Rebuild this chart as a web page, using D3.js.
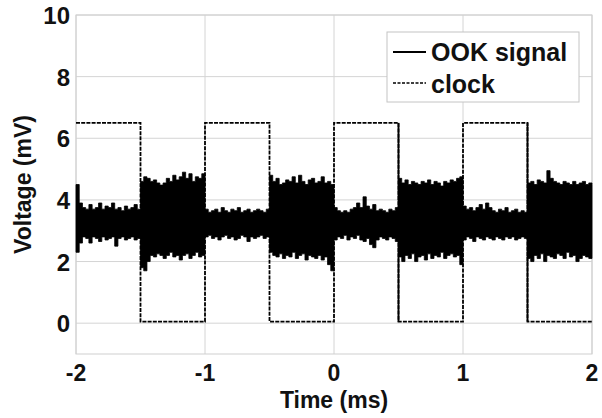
<!DOCTYPE html>
<html>
<head>
<meta charset="utf-8">
<script src="https://cdn.jsdelivr.net/npm/d3@7"></script>
<style>
  body { margin: 0; background: #fff; }
  text { font-family: "Liberation Sans", Arial, sans-serif; font-weight: bold; fill: #111; }
</style>
</head>
<body>
<div id="chart"></div>
<script>
// tick labels
const xTicks = [-2, -1, 0, 1, 2];
const yTicks = [0, 2, 4, 6, 8, 10];

// clock square wave (ms, mV)
const clockTime = [-2, -1.5, -1, -0.5, 0, 0.5, 1, 1.5, 2];
const clockLevel = [6.5, 0.05, 6.5, 0.05, 6.5, 0.05, 6.5, 0.05, 0.05];
const solidEdges = [0.5, 1.5]; // edges that look solid in the picture

// OOK signal envelope, one value every 0.025 ms from -2 to 2 ms (mV)
const ookUpper = [
  4.5, 3.9, 3.75, 3.7, 3.85, 3.7, 3.75, 3.9, 3.7, 3.8, 3.75, 3.9, 3.7, 3.75, 3.65, 3.8, 3.7, 3.75, 3.85, 3.7,
  4.6, 4.75, 4.7, 4.6, 4.65, 4.55, 4.48, 4.55, 4.7, 4.6, 4.8, 4.65, 4.75, 4.9, 4.7, 4.85, 4.6, 4.75, 4.7, 4.85,
  3.7, 3.6, 3.65, 3.7, 3.6, 3.75, 3.65, 3.6, 3.7, 3.65, 3.75, 3.6, 3.65, 3.7, 3.6, 3.65, 3.7, 3.65, 3.6, 3.7,
  4.8, 4.6, 4.7, 4.5, 4.55, 4.65, 4.6, 4.75, 4.55, 4.8, 4.6, 4.5, 4.65, 4.7, 4.55, 4.6, 4.75, 4.55, 4.6, 4.5,
  3.75, 3.65, 3.6, 3.65, 3.6, 3.7, 3.75, 3.9, 3.75, 4.1, 3.8, 3.7, 3.85, 3.65, 3.7, 3.65, 3.6, 3.7, 3.65, 3.75,
  4.7, 4.55, 4.65, 4.5, 4.6, 4.55, 4.5, 4.6, 4.55, 4.65, 4.5, 4.6, 4.55, 4.45, 4.6, 4.55, 4.65, 4.6, 4.7, 4.75,
  3.8, 3.7, 3.75, 3.65, 3.75, 3.85, 3.7, 3.9, 3.75, 3.65, 3.6, 3.7, 3.65, 3.75, 3.6, 3.65, 3.7, 3.6, 3.65, 3.6,
  4.55, 4.6, 4.5, 4.65, 4.6, 4.55, 4.95, 4.7, 4.6, 4.55, 4.5, 4.6, 4.55, 4.5, 4.6, 4.5, 4.55, 4.6, 4.5, 4.55,
  4.5
];
const ookLower = [
  2.3, 2.6, 2.8, 2.75, 2.6, 2.8, 2.75, 2.65, 2.8, 2.7, 2.75, 2.8, 2.5, 2.75, 2.8, 2.7, 2.75, 2.8, 2.7, 2.75,
  1.8, 1.7, 2.0, 2.2, 2.15, 2.25, 2.2, 2.1, 2.2, 2.3, 2.15, 2.2, 2.05, 2.2, 2.25, 2.1, 2.2, 2.3, 2.15, 2.2,
  2.8, 2.85, 2.75, 2.8, 2.7, 2.8, 2.85, 2.75, 2.8, 2.7, 2.75, 2.85, 2.8, 2.65, 2.8, 2.75, 2.8, 2.85, 2.75, 2.8,
  2.3, 2.2, 2.15, 2.25, 2.1, 2.2, 2.15, 2.3, 2.1, 2.2, 2.25, 2.05, 2.2, 2.15, 2.1, 2.2, 2.05, 2.15, 1.9, 1.7,
  2.7, 2.8, 2.75, 2.85, 2.7, 2.8, 2.75, 2.85, 2.7, 2.65, 2.75, 2.55, 2.45, 2.7, 2.8, 2.75, 2.7, 2.8, 2.75, 2.65,
  2.15, 2.0, 2.2, 2.1, 2.25, 2.0, 2.15, 2.2, 2.05, 2.25, 2.1, 2.2, 2.15, 2.3, 2.1, 2.2, 2.25, 2.15, 2.2, 1.9,
  2.7, 2.8, 2.75, 2.65, 2.8, 2.75, 2.7, 2.8, 2.75, 2.7, 2.8, 2.75, 2.7, 2.8, 2.75, 2.8, 2.7, 2.75, 2.8, 2.75,
  2.1, 2.0, 2.2, 2.1, 2.25, 2.0, 2.2, 2.15, 2.1, 2.25, 2.2, 2.1, 2.3, 2.15, 2.2, 2.0, 2.1, 2.2, 2.15, 2.1,
  2.15
];

const width = 602, height = 418;
const margin = { top: 15, right: 10, bottom: 64, left: 76 };

const svg = d3.select("#chart").append("svg")
  .attr("width", width)
  .attr("height", height);

const xScale = d3.scaleLinear().domain([-2, 2]).range([margin.left, width - margin.right]);
const yScale = d3.scaleLinear().domain([-1, 10]).range([height - margin.bottom, margin.top]);

// grid
svg.append("g").selectAll("line").data(xTicks).join("line")
  .attr("x1", (d) => xScale(d)).attr("x2", (d) => xScale(d))
  .attr("y1", yScale(10)).attr("y2", yScale(-1))
  .attr("stroke", "#d4d4d4").attr("stroke-width", 1);
svg.append("g").selectAll("line").data(yTicks).join("line")
  .attr("x1", xScale(-2)).attr("x2", xScale(2))
  .attr("y1", (d) => yScale(d)).attr("y2", (d) => yScale(d))
  .attr("stroke", "#d4d4d4").attr("stroke-width", 1);

// frame
svg.append("rect")
  .attr("x", xScale(-2)).attr("y", yScale(10))
  .attr("width", xScale(2) - xScale(-2)).attr("height", yScale(-1) - yScale(10))
  .attr("fill", "none").attr("stroke", "#cfcfcf");

// OOK signal band
const ookTime = d3.range(ookUpper.length).map((i) => -2 + i * 0.025);
const band = ookTime.map((t, i) => ({ t, hi: ookUpper[i], lo: ookLower[i] }));
svg.append("path")
  .datum(band)
  .attr("fill", "#000")
  .attr("stroke", "#000")
  .attr("stroke-width", 0.8)
  .attr("d", d3.area()
    .curve(d3.curveStepAfter)
    .x((d) => xScale(d.t))
    .y0((d) => yScale(d.lo))
    .y1((d) => yScale(d.hi)));

// clock
const clock = clockTime.map((t, i) => ({ t, v: clockLevel[i] }));
svg.append("path")
  .datum(clock)
  .attr("fill", "none")
  .attr("stroke", "#000")
  .attr("stroke-width", 1.8)
  .attr("stroke-dasharray", "4,1.2")
  .attr("d", d3.line().curve(d3.curveStepAfter).x((d) => xScale(d.t)).y((d) => yScale(d.v)));

svg.append("g").selectAll("line").data(solidEdges).join("line")
  .attr("x1", (d) => xScale(d)).attr("x2", (d) => xScale(d))
  .attr("y1", yScale(6.5)).attr("y2", yScale(0.05))
  .attr("stroke", "#000").attr("stroke-width", 1.8);

// tick labels
svg.append("g").selectAll("text").data(xTicks).join("text")
  .attr("x", (d) => xScale(d))
  .attr("y", 381)
  .attr("text-anchor", "middle")
  .style("font-size", "23px")
  .text((d) => d);
svg.append("g").selectAll("text").data(yTicks).join("text")
  .attr("x", 70)
  .attr("y", (d) => yScale(d) + 9)
  .attr("text-anchor", "end")
  .style("font-size", "24px")
  .text((d) => d);

// axis titles
svg.append("text")
  .attr("x", xScale(0))
  .attr("y", 408)
  .attr("text-anchor", "middle")
  .style("font-size", "23px")
  .text("Time (ms)");
svg.append("text")
  .attr("transform", `translate(31, ${(yScale(10) + yScale(-1)) / 2}) rotate(-90)`)
  .attr("text-anchor", "middle")
  .style("font-size", "23px")
  .text("Voltage (mV)");

// legend
const legend = svg.append("g");
legend.append("rect")
  .attr("x", 387).attr("y", 32).attr("width", 192).attr("height", 70)
  .attr("fill", "#fff").attr("stroke", "#c4c4c4");
legend.append("line")
  .attr("x1", 393).attr("x2", 426).attr("y1", 52).attr("y2", 52)
  .attr("stroke", "#000").attr("stroke-width", 2);
legend.append("line")
  .attr("x1", 393).attr("x2", 426).attr("y1", 83).attr("y2", 83)
  .attr("stroke", "#000").attr("stroke-width", 1.4).attr("stroke-dasharray", "3,1.5");
legend.append("text").attr("x", 431).attr("y", 61).style("font-size", "25px").text("OOK signal");
legend.append("text").attr("x", 431).attr("y", 93).style("font-size", "25px").text("clock");
</script>
</body>
</html>
